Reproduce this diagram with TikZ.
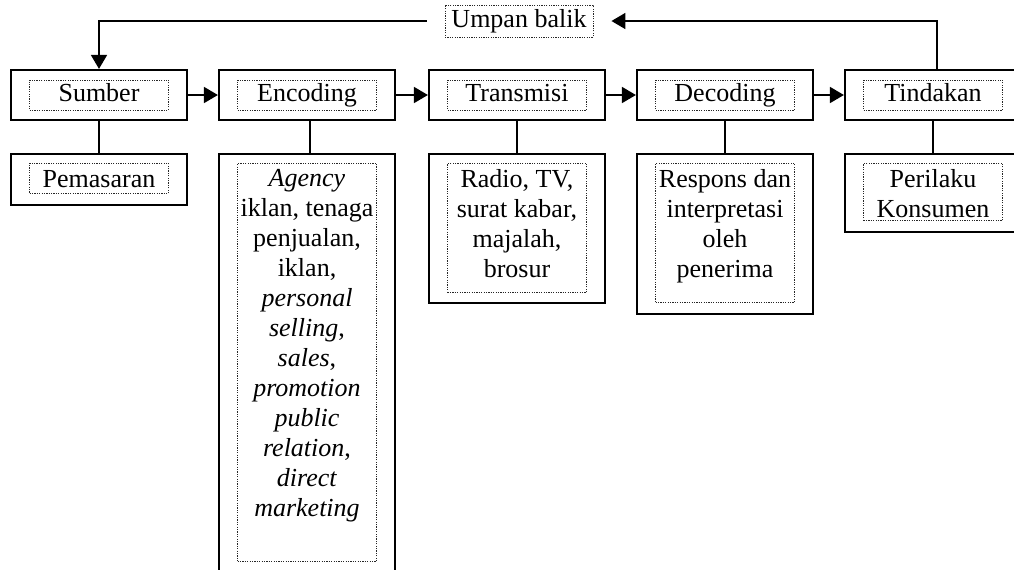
\documentclass[tikz,border=0pt]{standalone}
\usepackage{fontspec}
\setmainfont{Liberation Serif}
\usepackage{tikz}
\usetikzlibrary{arrows.meta,positioning}
\tikzset{outbox/.style={draw, line width=1.1pt, minimum width=88pt, inner sep=0pt}}
\tikzset{inbox/.style={draw=black!85, line width=0.45pt, dash pattern=on 0.6pt off 0.6pt, minimum width=69.5pt, inner sep=0pt}}
\tikzset{lbl/.style={inbox, minimum height=15pt, text height=9pt, text depth=2.5pt}}
\tikzset{txt/.style={align=center, anchor=north, inner sep=0pt}}
\tikzset{arr/.style={draw, line width=0.9pt, -{Triangle[length=7pt, width=8pt]}}}
\tikzset{link/.style={draw, line width=0.9pt}}

\begin{document}
\begin{tikzpicture}[x=0.5pt, y=-0.5pt, font=\fontsize{13}{15}\selectfont]
		\useasboundingbox (0,0) rectangle (1014,569);
		\clip (0,0) rectangle (1014,569);
		
		\node[lbl, minimum width=74pt, minimum height=16pt] (umpan) at (519,21){Umpan balik};
		
		\node[outbox, minimum height=25pt] (sumber) at (99,95){};
		\node[lbl] (sumberIn) at (sumber){Sumber};
		\node[outbox, minimum height=25pt] (encoding) at (307,95){};
		\node[lbl] (encodingIn) at (encoding){Encoding};
		\node[outbox, minimum height=25pt] (transmisi) at (517,95){};
		\node[lbl] (transmisiIn) at (transmisi){Transmisi};
		\node[outbox, minimum height=25pt] (decoding) at (725,95){};
		\node[lbl] (decodingIn) at (decoding){Decoding};
		\node[outbox, minimum height=25pt] (tindakan) at (933,95){};
		\node[lbl] (tindakanIn) at (tindakan){Tindakan};
		
		\node[outbox, anchor=north, minimum height=25.5pt] (pemasaran) at (99,153){};
		\node[inbox, anchor=north, minimum height=15pt] (pemasaranIn) at (99,163){};
		\node[txt] (pemasaranTxt) at (99,170){Pemasaran};
		
		\node[outbox, anchor=north, minimum height=215pt] (media) at (307,153){};
		\node[inbox, anchor=north, minimum height=199pt] (mediaIn) at (307,163){};
		\node[txt] (mediaTxt) at (307,169){\textit{Agency}\\ iklan, tenaga\\ penjualan,\\ iklan,\\ \textit{personal}\\ \textit{selling},\\ \textit{sales},\\ \textit{promotion}\\ \textit{public}\\ \textit{relation},\\ \textit{direct}\\ \textit{marketing}};
		
		\node[outbox, anchor=north, minimum height=74.5pt] (saluran) at (517,153){};
		\node[inbox, anchor=north, minimum height=64.5pt] (saluranIn) at (517,163){};
		\node[txt] (saluranTxt) at (517,169){Radio, TV,\\ surat kabar,\\ majalah,\\ brosur};
		
		\node[outbox, anchor=north, minimum height=80pt] (respons) at (725,153){};
		\node[inbox, anchor=north, minimum height=69.5pt] (responsIn) at (725,163){};
		\node[txt] (responsTxt) at (725,169){Respons dan\\ interpretasi\\ oleh\\ penerima};
		
		\node[outbox, anchor=north, minimum height=39pt] (perilaku) at (933,153){};
		\node[inbox, anchor=north, minimum height=28.5pt] (perilakuIn) at (933,163){};
		\node[txt] (perilakuTxt) at (933,169){Perilaku\\ Konsumen};
		
		\draw[arr] (sumber) -- (encoding);
		\draw[arr] (encoding) -- (transmisi);
		\draw[arr] (transmisi) -- (decoding);
		\draw[arr] (decoding) -- (tindakan);
		
		\draw[link] (sumber) -- (pemasaran);
		\draw[link] ([xshift=1.5pt]encoding.south) -- ([xshift=1.5pt]media.north);
		\draw[link] (transmisi) -- (saluran);
		\draw[link] (decoding) -- (respons);
		\draw[link] (tindakan) -- (perilaku);
		
		\draw[arr, shorten >=9pt] ([xshift=2pt]tindakan.north) |- (umpan.east);
		\draw[arr, shorten <=9pt] (umpan.west) -| (sumber.north);
	\end{tikzpicture}
\end{document}
